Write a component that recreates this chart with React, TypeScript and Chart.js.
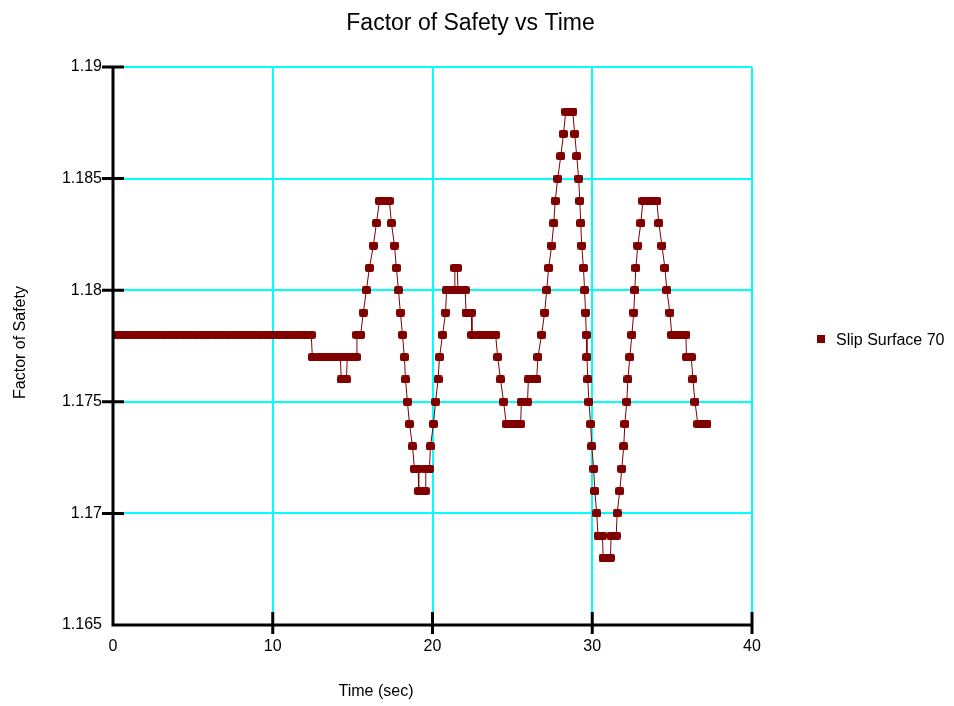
import React, { useEffect, useRef } from "react";
import { Chart, registerables } from "chart.js";

Chart.register(...registerables);

// ---- data ----
const chartTitle = "Factor of Safety vs Time";
const xTitle = "Time (sec)";
const yTitle = "Factor of Safety";
const seriesName = "Slip Surface 70";

const xTicks = [0, 10, 20, 30, 40];
const xTickLabels = ["0", "10", "20", "30", "40"];
const yTicks = [1.165, 1.17, 1.175, 1.18, 1.185, 1.19];
const yTickLabels = ["1.165", "1.17", "1.175", "1.18", "1.185", "1.19"];

const times = [
  0, 0.4, 0.8, 1.2, 1.6, 2, 2.4, 2.8, 3.2, 3.6, 4, 4.4, 4.8, 5.2, 5.6, 6, 6.4, 6.8, 7.2, 7.6, 8, 8.4, 8.8, 9.2, 9.6, 10, 10.4, 10.8, 11.2, 11.6, 12, 12.41,
  12.48, 12.9, 13.3, 13.7, 14.0, 14.23,
  14.29, 14.61,
  14.67, 15.0, 15.22,
  15.27, 15.5,
  15.67, 15.86, 16.05, 16.3, 16.49,
  16.68, 17.0, 17.3,
  17.43, 17.62, 17.74, 17.87, 17.99, 18.12, 18.24, 18.31, 18.43, 18.56, 18.75,
  18.87, 19.1,
  19.14, 19.35, 19.54,
  19.58, 19.81,
  19.87, 20.06, 20.19, 20.35, 20.44, 20.63, 20.82,
  20.88, 21.1, 21.36,
  21.4, 21.55,
  21.6, 21.85, 22.05,
  22.1, 22.43,
  22.47, 22.9, 23.3, 23.7, 23.95,
  24.08, 24.26, 24.45,
  24.62, 25.0, 25.3, 25.52,
  25.56, 25.95,
  26.0, 26.3, 26.52,
  26.6, 26.83, 27.02, 27.15, 27.27, 27.46, 27.59, 27.68, 27.84, 28.03, 28.2,
  28.34, 28.56, 28.78,
  28.9, 29.03, 29.15, 29.22, 29.28, 29.34, 29.45, 29.52, 29.58, 29.63, 29.67, 29.72, 29.79, 29.9, 29.97, 30.09, 30.16, 30.28,
  30.36, 30.64,
  30.68, 30.9, 31.14,
  31.18, 31.5,
  31.56, 31.72, 31.85, 31.97, 32.04, 32.16, 32.23, 32.35, 32.48, 32.6, 32.66, 32.73, 32.85, 33.04,
  33.17, 33.45, 33.75, 34.04,
  34.17, 34.36, 34.55, 34.67, 34.86,
  34.98, 35.3, 35.6, 35.86,
  35.9, 36.2,
  36.3, 36.43,
  36.61, 36.9, 37.18,
];

const factorOfSafety = [
  1.178, 1.178, 1.178, 1.178, 1.178, 1.178, 1.178, 1.178, 1.178, 1.178, 1.178, 1.178, 1.178, 1.178, 1.178, 1.178, 1.178, 1.178, 1.178, 1.178, 1.178, 1.178, 1.178, 1.178, 1.178, 1.178, 1.178, 1.178, 1.178, 1.178, 1.178, 1.178,
  1.177, 1.177, 1.177, 1.177, 1.177, 1.177,
  1.176, 1.176,
  1.177, 1.177, 1.177,
  1.178, 1.178,
  1.179, 1.18, 1.181, 1.182, 1.183,
  1.184, 1.184, 1.184,
  1.183, 1.182, 1.181, 1.18, 1.179, 1.178, 1.177, 1.176, 1.175, 1.174, 1.173,
  1.172, 1.172,
  1.171, 1.171, 1.171,
  1.172, 1.172,
  1.173, 1.174, 1.175, 1.176, 1.177, 1.178, 1.179,
  1.18, 1.18, 1.18,
  1.181, 1.181,
  1.18, 1.18, 1.18,
  1.179, 1.179,
  1.178, 1.178, 1.178, 1.178, 1.178,
  1.177, 1.176, 1.175,
  1.174, 1.174, 1.174, 1.174,
  1.175, 1.175,
  1.176, 1.176, 1.176,
  1.177, 1.178, 1.179, 1.18, 1.181, 1.182, 1.183, 1.184, 1.185, 1.186, 1.187,
  1.188, 1.188, 1.188,
  1.187, 1.186, 1.185, 1.184, 1.183, 1.182, 1.181, 1.18, 1.179, 1.178, 1.177, 1.176, 1.175, 1.174, 1.173, 1.172, 1.171, 1.17,
  1.169, 1.169,
  1.168, 1.168, 1.168,
  1.169, 1.169,
  1.17, 1.171, 1.172, 1.173, 1.174, 1.175, 1.176, 1.177, 1.178, 1.179, 1.18, 1.181, 1.182, 1.183,
  1.184, 1.184, 1.184, 1.184,
  1.183, 1.182, 1.181, 1.18, 1.179,
  1.178, 1.178, 1.178, 1.178,
  1.177, 1.177,
  1.176, 1.175,
  1.174, 1.174, 1.174,
];

// ---- styles ----
const FONT = "'Liberation Sans', Arial, Helvetica, sans-serif";
const MAROON = "#800000";
const GRID = "#00FFFF";

function makeMarker(): HTMLCanvasElement {
  const c = document.createElement("canvas");
  c.width = 9;
  c.height = 8;
  const g = c.getContext("2d")!;
  g.fillStyle = MAROON;
  g.beginPath();
  if ((g as any).roundRect) {
    (g as any).roundRect(0, 0, 9, 8, 2);
  } else {
    g.rect(0, 0, 9, 8);
  }
  g.fill();
  return c;
}

const decorPlugin = {
  id: "decor",
  afterDatasetsDraw(chart: any) {
    const { ctx, chartArea: a, scales } = chart;
    const xs = scales.x;
    const ys = scales.y;
    ctx.save();
    ctx.strokeStyle = "#000";
    ctx.lineCap = "butt";
    // axis lines
    ctx.lineWidth = 3;
    ctx.beginPath();
    ctx.moveTo(a.left, a.top);
    ctx.lineTo(a.left, a.bottom);
    ctx.lineTo(a.right, a.bottom);
    ctx.stroke();
    // tick marks
    ctx.lineWidth = 3;
    ctx.beginPath();
    yTicks.slice(1).forEach((v) => {
      const py = ys.getPixelForValue(v);
      ctx.moveTo(a.left - 11, py);
      ctx.lineTo(a.left + 11, py);
    });
    xTicks.slice(1).forEach((v) => {
      const px = xs.getPixelForValue(v);
      ctx.moveTo(px, a.bottom - 13);
      ctx.lineTo(px, a.bottom + 9);
    });
    ctx.stroke();
    ctx.restore();
  },
  afterDraw(chart: any) {
    const { ctx, chartArea: a } = chart;
    ctx.save();
    ctx.fillStyle = "#000";
    // chart title
    ctx.font = `23px ${FONT}`;
    ctx.textAlign = "center";
    ctx.textBaseline = "alphabetic";
    ctx.fillText(chartTitle, (a.left + a.right) / 2 + 38, 30);
    // x title
    ctx.font = `16px ${FONT}`;
    ctx.fillText(xTitle, a.right / 2, 696);
    // y title
    ctx.save();
    ctx.translate(25, (a.top + a.bottom) / 2 + 75.5 - 79);
    ctx.rotate(-Math.PI / 2);
    ctx.textAlign = "center";
    ctx.fillText(yTitle, 0, 0);
    ctx.restore();
    // legend
    ctx.fillStyle = MAROON;
    ctx.fillRect(817, 335, 8, 8);
    ctx.fillStyle = "#000";
    ctx.textAlign = "left";
    ctx.font = `16px ${FONT}`;
    ctx.fillText(seriesName, 836, 345);
    ctx.restore();
  },
};

export default function App() {
  const ref = useRef<HTMLCanvasElement | null>(null);

  useEffect(() => {
    document.body.style.margin = "0";
    const canvas = ref.current;
    if (!canvas) return;
    const marker = makeMarker();
    const points = times.map((t, i) => ({ x: t, y: factorOfSafety[i] }));

    const chart = new Chart(canvas, {
      type: "line",
      data: {
        datasets: [
          {
            label: seriesName,
            data: points,
            borderColor: MAROON,
            backgroundColor: MAROON,
            borderWidth: 1,
            tension: 0,
            pointStyle: marker as any,
            pointRadius: 4,
            pointHoverRadius: 4,
          },
        ],
      },
      options: {
        responsive: false,
        animation: false,
        devicePixelRatio: 1,
        events: [],
        layout: { padding: { top: 67, right: 202, left: 0, bottom: 0 } },
        plugins: {
          legend: { display: false },
          title: { display: false },
          tooltip: { enabled: false },
        },
        scales: {
          x: {
            type: "linear",
            min: 0,
            max: 40,
            afterBuildTicks: (s: any) => {
              s.ticks = xTicks.map((v) => ({ value: v }));
            },
            afterFit: (s: any) => {
              s.height = 81;
            },
            grid: { color: GRID, lineWidth: 2, drawTicks: false },
            border: { display: false },
            ticks: {
              padding: 12,
              color: "#000",
              font: { family: FONT, size: 16 },
              callback: (_v: any, i: number) => xTickLabels[i],
              maxRotation: 0,
            },
          },
          y: {
            type: "linear",
            min: 1.165,
            max: 1.19,
            afterBuildTicks: (s: any) => {
              s.ticks = yTicks.map((v) => ({ value: v }));
            },
            afterFit: (s: any) => {
              s.width = 113;
            },
            grid: { color: GRID, lineWidth: 2, drawTicks: false },
            border: { display: false },
            ticks: {
              padding: 11,
              color: "#000",
              font: { family: FONT, size: 16 },
              callback: (_v: any, i: number) => yTickLabels[i],
            },
          },
        },
      },
      plugins: [decorPlugin],
    });
    return () => chart.destroy();
  }, []);

  return (
    <div style={{ position: "absolute", left: 0, top: 0, width: 954, height: 706 }}>
      <canvas ref={ref} width={954} height={706} style={{ display: "block", width: 954, height: 706 }} />
    </div>
  );
}
